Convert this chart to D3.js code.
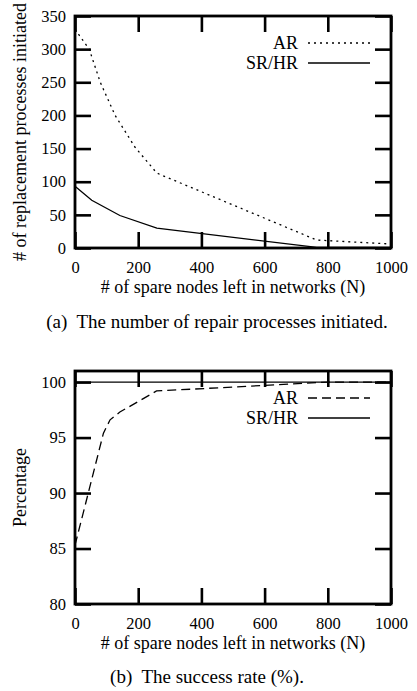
<!DOCTYPE html>
<html>
<head>
<meta charset="utf-8">
<script src="https://cdn.jsdelivr.net/npm/d3@7"></script>
</head>
<body style="margin:0">
<div id="chart-container"></div>
<script>
// x values (spare nodes left) and series values
const xTicks = [0, 200, 400, 600, 800, 1000];

const arRepairN = [0, 45, 80, 127, 190, 259, 765, 1000];
const arRepair = [330, 300, 250, 200, 152, 113, 12, 6];
const srRepairN = [0, 53, 142, 259, 765, 1000];
const srRepair = [93, 72, 49, 30, 1, 1];

const arSuccessN = [0, 42, 90, 111, 142, 258, 600, 800, 1000];
const arSuccess = [85.3, 90, 95.4, 96.6, 97.3, 99.2, 99.7, 100, 100];
const srSuccessN = [0, 1000];
const srSuccess = [100, 100];

const repairTicks = [0, 50, 100, 150, 200, 250, 300, 350];
const successTicks = [80, 85, 90, 95, 100];

const svgWidth = 417;
const svgHeight = 691;
const tickLen = 16;
const serif = '"Liberation Serif"';

const svg = d3.select("#chart-container")
    .append("svg")
    .attr("width", svgWidth)
    .attr("height", svgHeight);

function label(g, x, y, txt, size, anchor) {
    return g.append("text")
        .attr("x", x).attr("y", y)
        .attr("text-anchor", anchor || "middle")
        .style("font-family", serif)
        .attr("font-size", size)
        .attr("fill", "#000")
        .text(txt);
}

function drawPanel(opt) {
    const x = d3.scaleLinear().domain([0, 1000]).range([75, 391]);
    const y = d3.scaleLinear().domain(opt.yDomain).range([opt.bottom, opt.top]);
    const g = svg.append("g");

    // inward ticks on all four sides
    const axes = [
        { ax: d3.axisBottom(x).tickValues(xTicks).tickSize(-tickLen).tickFormat(d3.format("d")), t: `translate(0,${opt.bottom})`, bottom: true },
        { ax: d3.axisTop(x).tickValues(xTicks).tickSize(-tickLen).tickFormat(""), t: `translate(0,${opt.top})` },
        { ax: d3.axisLeft(y).tickValues(opt.yTicks).tickSize(-tickLen).tickPadding(9), t: `translate(75,0)` },
        { ax: d3.axisRight(y).tickValues(opt.yTicks).tickSize(-tickLen).tickFormat(""), t: `translate(391,0)` }
    ];
    axes.forEach(a => {
        const ag = g.append("g").attr("transform", a.t).call(a.ax)
            .attr("font-family", null).attr("font-size", 16.5);
        ag.select(".domain").remove();
        ag.selectAll("line").attr("stroke", "#000").attr("stroke-width", 2.6);
        ag.selectAll("text").style("font-family", serif).attr("fill", "#000");
        if (a.bottom) ag.selectAll("text").attr("dy", null).attr("y", tickLen + 9);
    });

    // data lines
    const line = d3.line().x(d => x(d[0])).y(d => y(d[1]));
    opt.series.forEach(s => {
        g.append("path")
            .datum(d3.zip(s.n, s.v))
            .attr("fill", "none")
            .attr("stroke", "#000")
            .attr("stroke-width", 1.3)
            .attr("stroke-dasharray", s.dash)
            .attr("d", line);
    });

    // frame
    g.append("rect")
        .attr("x", 75).attr("y", opt.top)
        .attr("width", 316).attr("height", opt.bottom - opt.top)
        .attr("fill", "none").attr("stroke", "#000").attr("stroke-width", 2.8);

    // legend
    opt.series.forEach((s, i) => {
        const ly = opt.legendY + i * 20;
        label(g, 298, ly + 6, s.name, 18, "end");
        g.append("line")
            .attr("x1", 308).attr("x2", 370).attr("y1", ly).attr("y2", ly)
            .attr("stroke", "#000").attr("stroke-width", 1.3)
            .attr("stroke-dasharray", s.dash);
    });

    // axis titles
    label(g, 233, opt.bottom + 45, "# of spare nodes left in networks (N)", 18);
    label(g, 0, 0, opt.yTitle, 18)
        .attr("transform", `translate(26,${(opt.top + opt.bottom) / 2}) rotate(-90)`);

    // caption
    label(g, opt.captionX, opt.captionY, opt.caption, 19)
        .style("white-space", "pre");
}

drawPanel({
    top: 16, bottom: 248, yDomain: [0, 350], yTicks: repairTicks,
    yTitle: "# of replacement processes initiated",
    legendY: 43,
    caption: "(a)  The number of repair processes initiated.", captionX: 217, captionY: 328,
    series: [
        { name: "AR", n: arRepairN, v: arRepair, dash: "2,4" },
        { name: "SR/HR", n: srRepairN, v: srRepair, dash: null }
    ]
});

drawPanel({
    top: 371, bottom: 604, yDomain: [80, 101], yTicks: successTicks,
    yTitle: "Percentage",
    legendY: 398,
    caption: "(b)  The success rate (%).", captionX: 207, captionY: 683,
    series: [
        { name: "AR", n: arSuccessN, v: arSuccess, dash: "9,5" },
        { name: "SR/HR", n: srSuccessN, v: srSuccess, dash: null }
    ]
});
</script>
</body>
</html>
